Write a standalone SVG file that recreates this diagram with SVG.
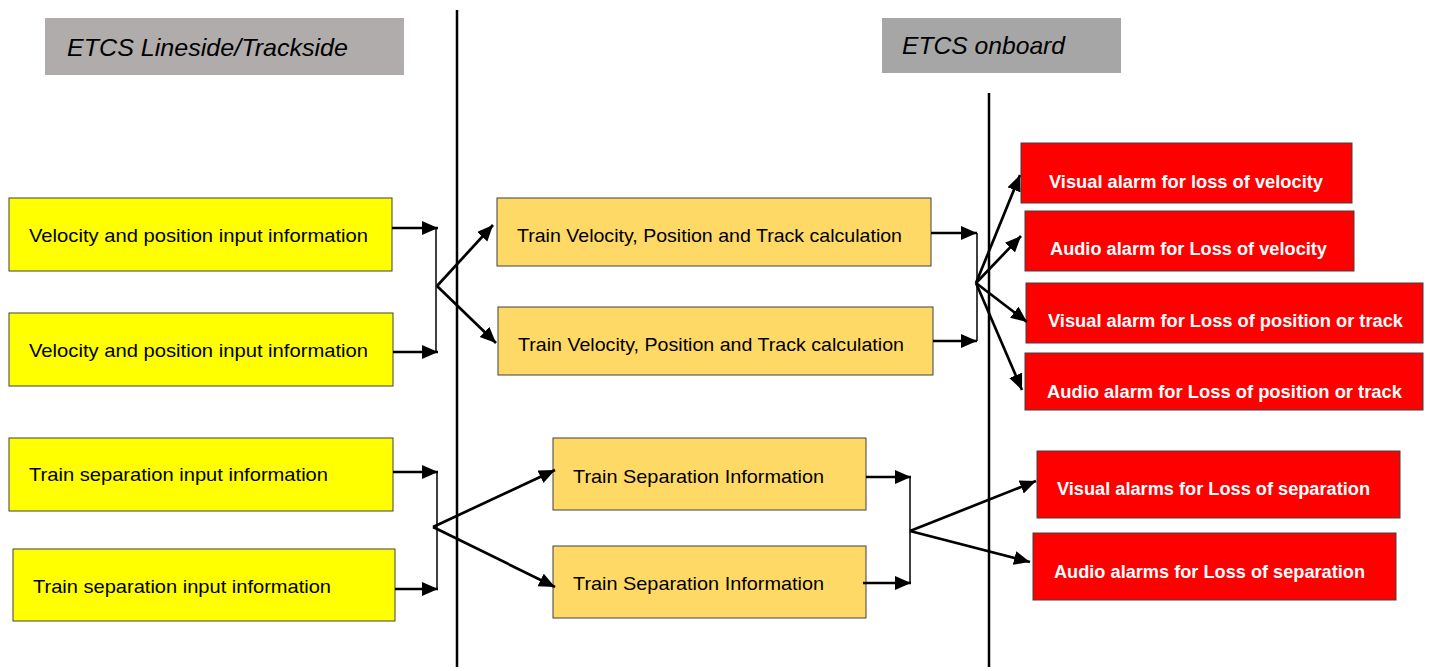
<svg xmlns="http://www.w3.org/2000/svg" width="1448" height="671" viewBox="0 0 1448 671">
<style>
.hdr{font-family:"Liberation Sans",Arial,sans-serif;font-style:italic;font-size:24px;fill:#000}
.t{font-family:"Liberation Sans",Arial,sans-serif;font-size:19px;fill:#000}
.w{font-family:"Liberation Sans",Arial,sans-serif;font-size:17.5px;font-weight:bold;fill:#fff}
.y{fill:#ffff00;stroke:#404040;stroke-width:1}
.o{fill:#ffd966;stroke:#404040;stroke-width:1}
.r{fill:#ff0000;stroke:#404040;stroke-width:1}
.a{stroke:#000;stroke-width:2.7;fill:none;marker-end:url(#ah)}
.v{stroke:#000;stroke-width:1.5;fill:none}
.div{stroke:#000;stroke-width:2.5}
</style>
<defs>
<marker id="ah" markerUnits="userSpaceOnUse" markerWidth="17" markerHeight="15" refX="16" refY="7" orient="auto">
<path d="M0,0 L16,7 L0,14 z" fill="#000"/>
</marker>
</defs>
<rect width="1448" height="671" fill="#fff"/>
<g id="header-lineside">
<rect x="45" y="18" width="359" height="57" fill="#b0acab"/>
<text class="hdr" x="67" y="56" textLength="281" lengthAdjust="spacingAndGlyphs">ETCS Lineside/Trackside</text>
</g>
<g id="header-onboard">
<rect x="882" y="18" width="239" height="55" fill="#a6a6a6"/>
<text class="hdr" x="902" y="54" textLength="163" lengthAdjust="spacingAndGlyphs">ETCS onboard</text>
</g>
<g id="dividers">
<line class="div" x1="457" y1="10" x2="457" y2="667"/>
<line class="div" x1="989" y1="93" x2="989" y2="667"/>
</g>
<g id="y1"><rect class="y" x="9" y="198" width="383" height="73"/><text class="t" x="29" y="242" textLength="339" lengthAdjust="spacingAndGlyphs">Velocity and position input information</text></g>
<g id="y2"><rect class="y" x="9" y="313" width="384" height="73"/><text class="t" x="29" y="357" textLength="339" lengthAdjust="spacingAndGlyphs">Velocity and position input information</text></g>
<g id="y3"><rect class="y" x="9" y="438" width="384" height="73"/><text class="t" x="29" y="481" textLength="299" lengthAdjust="spacingAndGlyphs">Train separation input information</text></g>
<g id="y4"><rect class="y" x="13" y="549" width="382" height="72"/><text class="t" x="33" y="593" textLength="298" lengthAdjust="spacingAndGlyphs">Train separation input information</text></g>
<g id="o1"><rect class="o" x="497" y="198" width="434" height="68"/><text class="t" x="517" y="242" textLength="385" lengthAdjust="spacingAndGlyphs">Train Velocity, Position and Track calculation</text></g>
<g id="o2"><rect class="o" x="498" y="307" width="435" height="68"/><text class="t" x="518" y="351" textLength="386" lengthAdjust="spacingAndGlyphs">Train Velocity, Position and Track calculation</text></g>
<g id="o3"><rect class="o" x="553" y="438" width="313" height="72"/><text class="t" x="573" y="483" textLength="251" lengthAdjust="spacingAndGlyphs">Train Separation Information</text></g>
<g id="o4"><rect class="o" x="553" y="546" width="313" height="72"/><text class="t" x="573" y="590" textLength="251" lengthAdjust="spacingAndGlyphs">Train Separation Information</text></g>
<g id="r1"><rect class="r" x="1021" y="143" width="331" height="60"/><text class="w" x="1049" y="188" textLength="274" lengthAdjust="spacingAndGlyphs">Visual alarm for loss of velocity</text></g>
<g id="r2"><rect class="r" x="1025" y="211" width="329" height="60"/><text class="w" x="1050" y="255" textLength="277" lengthAdjust="spacingAndGlyphs">Audio alarm for Loss of velocity</text></g>
<g id="r3"><rect class="r" x="1026" y="283" width="397" height="60"/><text class="w" x="1048" y="327" textLength="355" lengthAdjust="spacingAndGlyphs">Visual alarm for Loss of position or track</text></g>
<g id="r4"><rect class="r" x="1025" y="353" width="398" height="57"/><text class="w" x="1047" y="398" textLength="355" lengthAdjust="spacingAndGlyphs">Audio alarm for Loss of position or track</text></g>
<g id="r5"><rect class="r" x="1037" y="451" width="363" height="67"/><text class="w" x="1057" y="495" textLength="313" lengthAdjust="spacingAndGlyphs">Visual alarms for Loss of separation</text></g>
<g id="r6"><rect class="r" x="1033" y="533" width="363" height="67"/><text class="w" x="1054" y="578" textLength="311" lengthAdjust="spacingAndGlyphs">Audio alarms for Loss of separation</text></g>
<g id="connectors">
<path class="a" d="M392,228 L438,228"/>
<path class="a" d="M393,352 L438,352"/>
<path class="v" d="M436,228 L436,352"/>
<path class="a" d="M437,286 L493,225"/>
<path class="a" d="M437,286 L496,343"/>
<path class="a" d="M931,233 L977,233"/>
<path class="a" d="M933,341 L977,341"/>
<path class="v" d="M977,233 L977,341"/>
<path class="a" d="M976,283 L1020,175"/>
<path class="a" d="M976,283 L1021,236"/>
<path class="a" d="M976,283 L1027,322"/>
<path class="a" d="M976,283 L1022,390"/>
<path class="a" d="M393,472 L438,472"/>
<path class="a" d="M395,589 L438,589"/>
<path class="v" d="M437,472 L437,589"/>
<path class="a" d="M433,527 L555,470"/>
<path class="a" d="M433,527 L555,587"/>
<path class="a" d="M866,477 L911,477"/>
<path class="a" d="M863,583 L911,583"/>
<path class="v" d="M910,477 L910,583"/>
<path class="a" d="M910,531 L1036,481"/>
<path class="a" d="M910,531 L1030,562"/>
</g>
</svg>
